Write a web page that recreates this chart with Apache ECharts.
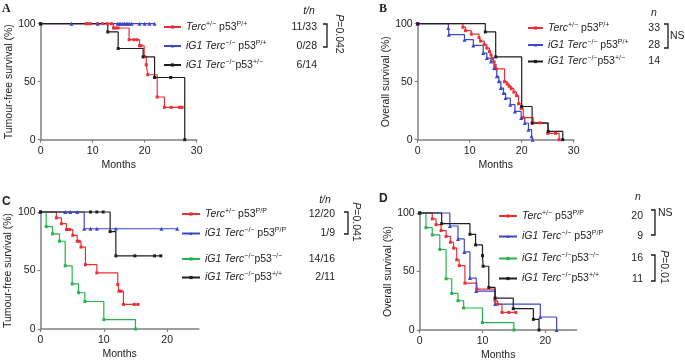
<!DOCTYPE html>
<html>
<head>
<meta charset="utf-8">
<script src="https://cdn.jsdelivr.net/npm/echarts@6/dist/echarts.min.js"></script>
<style>
  html, body { margin: 0; padding: 0; background: #fff; }
  #chart { width: 685px; height: 362px; }
</style>
</head>
<body>
<div id="chart"></div>
<script>
// A - tumour-free survival [months, %]
const aTerc = [[0,100],[8.7,100],[9.0,100],[9.6,100],[10.9,100],[11.9,100],[12.8,100],[13.6,100],[14.0,96.3],[14.4,96.3],[14.9,96.3],[17.0,86.2],[17.9,86.2],[18.5,86.2],[19.0,81.0],[19.3,81.0],[19.9,71.8],[20.3,64.6],[20.6,56.0],[22.4,36.8],[23.8,27.9],[25.1,27.9],[26.7,27.9],[27.2,27.9]];
const aIg1Pp = [[0,100],[5.9,100],[11.0,100],[14.8,100],[15.1,100],[15.4,100],[15.7,100],[16.1,100],[16.4,100],[16.7,100],[17.0,100],[17.5,100],[19.0,100],[20.0,100],[20.9,100],[21.9,100]];
const aIg1Het = [[0,100],[12.9,92.9],[14.9,78.6],[19.7,71.4],[21.9,53.6],[25.0,53.6],[27.7,0]];

// B - overall survival
const bTerc = [[0,100],[8.7,97],[9.2,94],[10.3,91],[11.8,88],[12.1,85],[12.8,82],[13.3,79],[13.8,76],[14.1,73],[14.4,70],[14.7,67],[14.9,64],[15.1,61],[16.7,50],[17.2,48],[17.6,46],[18.0,44],[18.5,41],[19.0,38],[19.4,31],[19.9,27],[20.3,19],[22.2,14.5],[23.5,14.5],[25.0,5.5],[26.5,5.5],[27.2,0]];
const bIg1Pp = [[0,100],[5.9,96.4],[6.0,90.5],[9.0,86.2],[10.7,81.3],[12.6,74.7],[13.3,70.4],[14.1,67.5],[14.7,61.8],[15.2,54.6],[15.6,50.3],[16.0,44.5],[16.5,40.2],[16.9,35.9],[17.8,30.2],[18.7,24.4],[19.9,18.7],[20.6,14.4],[21.3,8.6],[21.9,2.9],[22.1,0]];
const bIg1Het = [[0,100],[13.0,92.9],[15.0,71.4],[20.0,28.6],[22.0,14.3],[25.1,7.1],[27.9,0]];

// C - tumour-free survival
const cTerc = [[0,100],[2.5,95],[3.3,90],[4.1,85],[4.6,85],[5.1,80],[5.8,75],[6.1,75],[6.4,70],[7.1,55],[8.9,48],[12.2,38],[12.4,32.3],[12.7,32.3],[13.1,21],[14.8,21],[15.4,21]];
const cIg1PP = [[0,100],[3.9,100],[4.7,100],[5.8,100],[6.9,85.7],[7.9,85.7],[8.9,85.7],[11.9,85.7],[19.1,85.7],[21.6,85.7]];
const cIg1Null = [[0,100],[0.9,87.5],[1.9,81.3],[3.0,75],[3.9,54],[5.0,38.5],[6.0,31],[7.0,23.5],[10.0,8],[15.0,0]];
const cIg1Wt = [[0,100],[7.9,100],[8.9,100],[9.9,100],[11.0,83.3],[11.9,62.5],[14.9,62.5],[18.0,62.5],[19.0,62.5]];

// D - overall survival
const dTerc = [[0,100],[2.0,95],[2.6,90],[3.4,85],[4.2,80],[4.9,75],[5.4,70],[5.9,60],[6.3,55],[7.2,40],[9.1,35],[12.0,25],[12.4,22],[13.1,15],[14.2,15],[15.3,15]];
const dIg1PP = [[0,100],[4.8,88.9],[6.1,77.8],[7.1,66.7],[8.0,44.4],[9.0,33.3],[12.0,22.2],[19.2,11.1],[21.8,0]];
const dIg1Null = [[0,100],[1.0,87.5],[2.0,81.3],[3.2,68.8],[4.2,43.8],[5.1,31.3],[6.1,25],[7.0,18.8],[10.0,6.3],[15.0,0]];
const dIg1Wt = [[0,100],[3.5,90.9],[8.0,81.8],[8.9,72.7],[10.0,63.6],[10.1,54.5],[11.0,36.4],[12.0,27.3],[14.9,18.2],[18.1,9.1],[19.0,0]];

// legend labels and counts
const labelsAB = ['{i|Terc}{s|+/−} p53{s|P/+}', '{i|iG1 Terc}{s|−/−} p53{s|P/+}', '{i|iG1 Terc}{s|−/−}p53{s|+/−}'];
const labelsCD = ['{i|Terc}{s|+/−} p53{s|P/P}', '{i|iG1 Terc}{s|−/−} p53{s|P/P}', '{i|iG1 Terc}{s|−/−}p53{s|−/−}', '{i|iG1 Terc}{s|−/−}p53{s|+/+}'];
const countsA = ['11/33', '0/28', '6/14'];
const countsB = ['33', '28', '14'];
const countsC = ['12/20', '1/9', '14/16', '2/11'];
const countsD = ['20', '9', '16', '11'];
const xMax = [30, 30, 25, 25];
const yNames = ['Tumour-free survival (%)', 'Overall survival (%)', 'Tumour-free survival (%)', 'Overall survival (%)'];

const font = '"Liberation Sans", Arial, Helvetica, sans-serif';
const RED = '#ea3036', BLUE = '#3d47c9', BLACK = '#1e1e1e', GREEN = '#25b34b';
const AX = '#808080', TXT = '#222';

const grids = [
  {left: 40.7, top: 23.7, width: 156, height: 116},
  {left: 417.7, top: 23.7, width: 156, height: 116},
  {left: 40.5, top: 212, width: 158.3, height: 117},
  {left: 419.7, top: 213, width: 157, height: 117}
];

function km(name, data, color, symbol, i) {
  return {
    name: name, type: 'line', step: 'end', data: data,
    xAxisIndex: i, yAxisIndex: i,
    symbol: symbol, symbolSize: symbol === 'triangle' ? 4 : 3,
    showAllSymbol: true, clip: false, silent: true,
    lineStyle: {color: color, width: 1.2},
    itemStyle: {color: color}
  };
}

const series = [
  km('a1', aTerc, RED, 'rect', 0), km('a2', aIg1Pp, BLUE, 'triangle', 0), km('a3', aIg1Het, BLACK, 'rect', 0),
  km('b1', bTerc, RED, 'rect', 1), km('b2', bIg1Pp, BLUE, 'triangle', 1), km('b3', bIg1Het, BLACK, 'rect', 1),
  km('c1', cTerc, RED, 'rect', 2), km('c2', cIg1PP, BLUE, 'triangle', 2), km('c3', cIg1Null, GREEN, 'rect', 2), km('c4', cIg1Wt, BLACK, 'rect', 2),
  km('d1', dTerc, RED, 'rect', 3), km('d2', dIg1PP, BLUE, 'triangle', 3), km('d3', dIg1Null, GREEN, 'rect', 3), km('d4', dIg1Wt, BLACK, 'rect', 3)
];

const labelOf = {};
['a', 'b'].forEach(p => labelsAB.forEach((l, k) => labelOf[p + (k + 1)] = l));
['c', 'd'].forEach(p => labelsCD.forEach((l, k) => labelOf[p + (k + 1)] = l));

const rich = {
  i: {fontStyle: 'italic', fontSize: 10.5, fontFamily: font, color: TXT, lineHeight: 13},
  s: {fontSize: 7, fontFamily: font, color: TXT, verticalAlign: 'top', lineHeight: 8}
};

// legend placement: [name, left, centre y, line width]
const legendSpots = [
  ['a1', 163, 27, 17], ['a2', 163, 46, 17], ['a3', 163, 65, 17],
  ['b1', 527, 28, 15], ['b2', 527, 45, 15], ['b3', 527, 61.5, 15],
  ['c1', 181, 214, 18], ['c2', 181, 233.5, 18], ['c3', 181, 259, 18], ['c4', 181, 277.5, 18],
  ['d1', 498, 216, 18], ['d2', 498, 236.5, 18], ['d3', 498, 258.5, 18], ['d4', 498, 278.5, 18]
];
const legends = legendSpots.map(s => ({
  data: [s[0]], left: s[1], top: s[2] - 6.5, padding: 0,
  itemWidth: s[3], itemHeight: 4, itemGap: 0, selectedMode: false,
  formatter: n => labelOf[n],
  textStyle: {fontFamily: font, fontSize: 10.5, color: TXT, lineHeight: 13, rich: rich}
}));

function txt(x, y, text, extra) {
  return {type: 'text', x: x, y: y, silent: true,
    style: Object.assign({text: text, fill: TXT, fontSize: 10.5, fontFamily: font, align: 'left', verticalAlign: 'middle'}, extra || {})};
}
function bracket(x, y1, y2) {
  return {type: 'polyline', silent: true,
    shape: {points: [[x - 4, y1], [x, y1], [x, y2], [x - 4, y2]]},
    style: {stroke: '#1a1a1a', lineWidth: 1.3, fill: 'none'}};
}
const pRich = {i: {fontStyle: 'italic', fontSize: 10.5, fontFamily: font, fill: TXT}};

const graphic = [
  txt(2, 8.5, 'A', {fontWeight: 'bold', fontSize: 12, fontFamily: '"Liberation Serif", serif'}),
  txt(379, 8.5, 'B', {fontWeight: 'bold', fontSize: 12, fontFamily: '"Liberation Serif", serif'}),
  txt(2, 201.5, 'C', {fontWeight: 'bold', fontSize: 12}),
  txt(379, 198.5, 'D', {fontWeight: 'bold', fontSize: 12}),
  txt(309, 11, 't/n', {fontStyle: 'italic', align: 'center'}),
  txt(654, 13, 'n', {fontStyle: 'italic', align: 'center'}),
  txt(325, 200, 't/n', {fontStyle: 'italic', align: 'center'}),
  txt(638, 197, 'n', {fontStyle: 'italic', align: 'center'}),
  bracket(327, 24, 47), bracket(668, 24, 48), bracket(348, 212, 234),
  bracket(655, 210, 235), bracket(655, 255, 281),
  txt(670, 36, 'NS'), txt(658, 213, 'NS'),
  Object.assign(txt(339, 34, '{i|P}=0.042', {align: 'center', rich: pRich}), {rotation: -Math.PI / 2}),
  Object.assign(txt(356, 222, '{i|P}=0.041', {align: 'center', rich: pRich}), {rotation: -Math.PI / 2}),
  Object.assign(txt(664, 267, '{i|P}=0.01', {align: 'center', rich: pRich}), {rotation: -Math.PI / 2})
];
const countY = [[27, 46, 65.5], [28.5, 45, 61.5], [214, 233.5, 259, 277.5], [216, 236.5, 258.5, 279.5]];
const countRight = [317, 660, 335, 643];
[countsA, countsB, countsC, countsD].forEach((list, p) => {
  list.forEach((c, k) => graphic.push(txt(countRight[p], countY[p][k], c, {align: 'right'})));
});

const axisText = {color: TXT, fontSize: 10.5, fontFamily: font};
const chart = echarts.init(document.getElementById('chart'));
chart.setOption({
  animation: false,
  backgroundColor: '#fff',
  grid: grids,
  legend: legends,
  xAxis: grids.map((g, i) => ({
    type: 'value', gridIndex: i, min: 0, max: xMax[i], interval: 10,
    axisLine: {show: true, onZero: false, lineStyle: {color: AX, width: 1.5}},
    axisTick: {show: true, length: 3, lineStyle: {color: AX, width: 1.2}, customValues: xMax[i] === 25 ? [0, 10, 20] : undefined},
    axisLabel: Object.assign({margin: 6, customValues: xMax[i] === 25 ? [0, 10, 20] : undefined}, axisText),
    splitLine: {show: false},
    name: 'Months', nameLocation: 'middle', nameGap: 20, nameTextStyle: axisText
  })),
  yAxis: grids.map((g, i) => ({
    type: 'value', gridIndex: i, min: 0, max: 100, interval: 50,
    axisLine: {show: true, onZero: false, lineStyle: {color: AX, width: 1.5}},
    axisTick: {show: true, length: 3, lineStyle: {color: AX, width: 1.2}},
    axisLabel: Object.assign({margin: 5}, axisText),
    splitLine: {show: false},
    name: yNames[i], nameLocation: 'middle', nameRotate: 90, nameGap: 23, nameTextStyle: axisText
  })),
  series: series,
  graphic: graphic
});
</script>
</body>
</html>
